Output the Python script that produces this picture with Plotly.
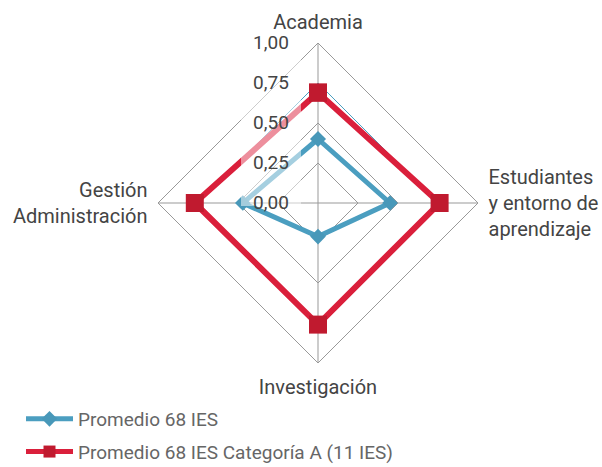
import numpy as np
import plotly.graph_objects as go

# ---- data ----
categories = ["Academia", "Estudiantes<br>y entorno de<br>aprendizaje", "Investigación", "Gestión<br>Administración"]
promedio_68 = [0.40, 0.45, 0.21, 0.47]
promedio_cat_a = [0.69, 0.76, 0.76, 0.77]
radial_ticks = [0.0, 0.25, 0.5, 0.75, 1.0]
series_names = ["Promedio 68 IES", "Promedio 68 IES Categoría A (11 IES)"]

W, H = 602, 467
CX, CY, R = 318, 203, 160  # pixel centre and radius of the radar

dom_x = [(CX - R) / W, (CX + R) / W]
dom_y = [(H - CY - R) / H, (H - CY + R) / H]

BLUE_L, BLUE_M = "#4b9ec0", "#4898b9"
RED_L, RED_M = "#da1f3b", "#c01a2f"
FONT = "Roboto"

def closed(v):
    return list(v) + [v[0]]

fig = go.Figure()

# thin blue ring at 0.75 (as in the source graphic)
fig.add_trace(go.Scatterpolar(
    r=[radial_ticks[3]] * (len(categories) + 1), theta=closed(categories),
    mode="lines", line=dict(color=BLUE_L, width=1), showlegend=False,
    hoverinfo="skip", subplot="polar"))

fig.add_trace(go.Scatterpolar(
    r=closed(promedio_68), theta=closed(categories), name=series_names[0],
    mode="lines+markers", line=dict(color=BLUE_L, width=5),
    marker=dict(symbol="diamond", size=12, color=BLUE_M),
    legendgroup="a", subplot="polar"))

fig.add_trace(go.Scatterpolar(
    r=closed(promedio_cat_a), theta=closed(categories), name=series_names[1],
    mode="lines+markers", line=dict(color=RED_L, width=6),
    marker=dict(symbol="square", size=18, color=RED_M),
    legendgroup="b", subplot="polar"))

# translucent label backdrop (decoration) in an overlay polar subplot
box_px = [(241, 28), (301, 28), (301, 206), (241, 206), (241, 28)]
br, bt = [], []
for px, py in box_px:
    dx, dy = px - CX, CY - py
    br.append(np.hypot(dx, dy) / R)
    bt.append(np.degrees(np.arctan2(dy, dx)))
fig.add_trace(go.Scatterpolar(
    r=br, theta=bt, mode="lines", fill="toself",
    fillcolor="rgba(255,255,255,0.5)", line=dict(width=0, color="rgba(0,0,0,0)"),
    showlegend=False, hoverinfo="skip", cliponaxis=False, subplot="polar2"))

grid = "#999999"
fig.update_layout(
    width=W, height=H,
    margin=dict(l=0, r=0, t=0, b=0, autoexpand=False),
    paper_bgcolor="white",
    separators=", ",
    font=dict(family=FONT, color="#444444", size=20),
    polar=dict(
        domain=dict(x=dom_x, y=dom_y),
        bgcolor="white",
        gridshape="linear",
        angularaxis=dict(
            type="category", rotation=90, direction="clockwise",
            showgrid=True, gridcolor=grid, gridwidth=1,
            showline=True, linecolor=grid, linewidth=1,
            ticks="outside", ticklen=6, tickcolor="rgba(0,0,0,0)",
            tickfont=dict(size=20, color="#444444"),
        ),
        radialaxis=dict(
            range=[0, 1], tickvals=radial_ticks, showticklabels=False,
            showgrid=True, gridcolor=grid, gridwidth=1,
            showline=False, ticks="",
        ),
    ),
    polar2=dict(
        domain=dict(x=dom_x, y=dom_y),
        bgcolor="rgba(0,0,0,0)",
        angularaxis=dict(type="linear", showgrid=False, showline=False,
                         showticklabels=False, ticks=""),
        radialaxis=dict(
            range=[0, 1], tickvals=radial_ticks, tickformat=".2f",
            angle=90, side="counterclockwise", tickangle=90,
            showgrid=False, showline=False,
            ticks="outside", ticklen=22, tickcolor="rgba(0,0,0,0)",
            tickfont=dict(size=19, color="#444444"),
        ),
    ),
    legend=dict(
        x=21 / W, y=-4 / H, xanchor="left", yanchor="bottom",
        font=dict(size=19, color="#666666"),
        tracegroupgap=5, itemwidth=47, itemsizing="constant",
        bgcolor="rgba(0,0,0,0)",
    ),
)

fig.write_html("out.html", config={"displayModeBar": False},
               post_script="document.body.style.margin='0';")
